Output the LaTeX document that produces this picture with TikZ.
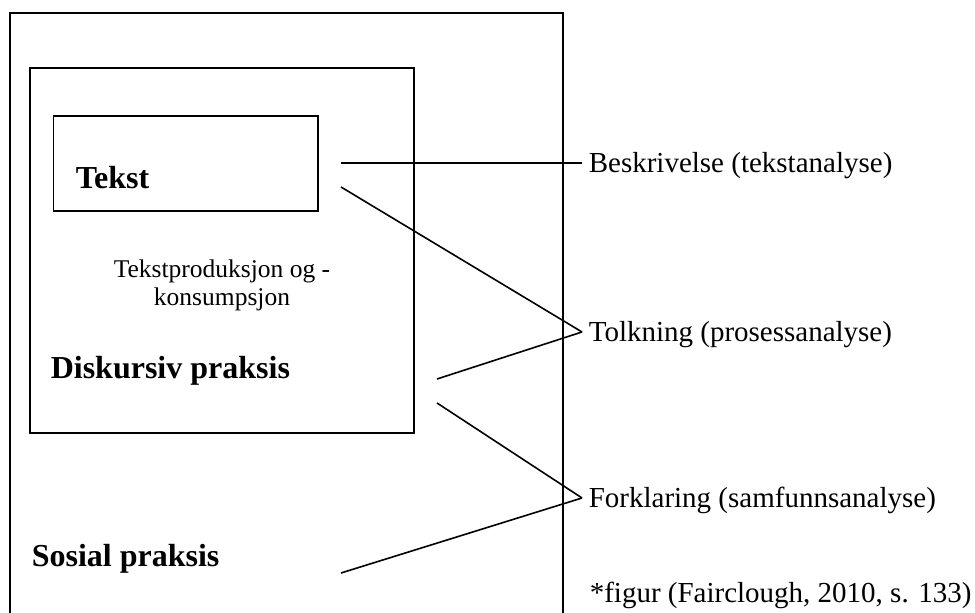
\documentclass[tikz,border=0pt]{standalone}
\usepackage{fontspec}
\setmainfont{Liberation Serif}

\begin{document}
\begin{tikzpicture}[x=0.5pt, y=-0.5pt, line width=0.8pt,
  font=\fontsize{14.5}{17}\selectfont,
  frame/.style={draw, inner sep=0pt},
  title/.style={font=\fontsize{16}{19}\selectfont\bfseries, anchor=base west, inner sep=0pt},
  level/.style={anchor=west, inner sep=3pt, text height=10pt, text depth=0pt}]
\clip (0,0) rectangle (975,613);
% nested boxes
\node[frame, minimum width=276.5pt, minimum height=320pt] (sosial) at (286.5,333) {};
\node[frame, minimum width=192pt, minimum height=182.5pt] (diskurs) at (222,250.5) {};
\node[frame, minimum width=132.25pt, minimum height=47.5pt] (tekst) at (185.75,163.5) {};
\node[title] (tekstlbl) at (75,189) {Tekst};
\node[align=center, inner sep=0pt, font=\fontsize{12.75}{14}\selectfont] (prod) at (222,285)
  {Tekstproduksjon og -\\konsumpsjon};
\node[title] (diskurslbl) at (50,379) {Diskursiv praksis};
\node[title] (sosiallbl) at (31,567) {Sosial praksis};
% analysis levels
\node[level] (beskr) at (582,163) {Beskrivelse (tekstanalyse)};
\node[level] (tolk) at (582,332) {Tolkning (prosessanalyse)};
\node[level] (forkl) at (582,498) {Forklaring (samfunnsanalyse)};
\coordinate (s1) at (341,163);
\coordinate (s2) at (341,187);
\coordinate (s3) at (437,379);
\coordinate (s4) at (437,403);
\coordinate (s5) at (341,573);
\foreach \a/\b in {s1/beskr, s2/tolk, s3/tolk, s4/forkl, s5/forkl} \draw (\a) -- (\b.west);
\node[anchor=base west, inner sep=0pt] (kilde) at (589,603) {*figur (Fairclough, 2010, s. 133)};
\end{tikzpicture}
\end{document}
